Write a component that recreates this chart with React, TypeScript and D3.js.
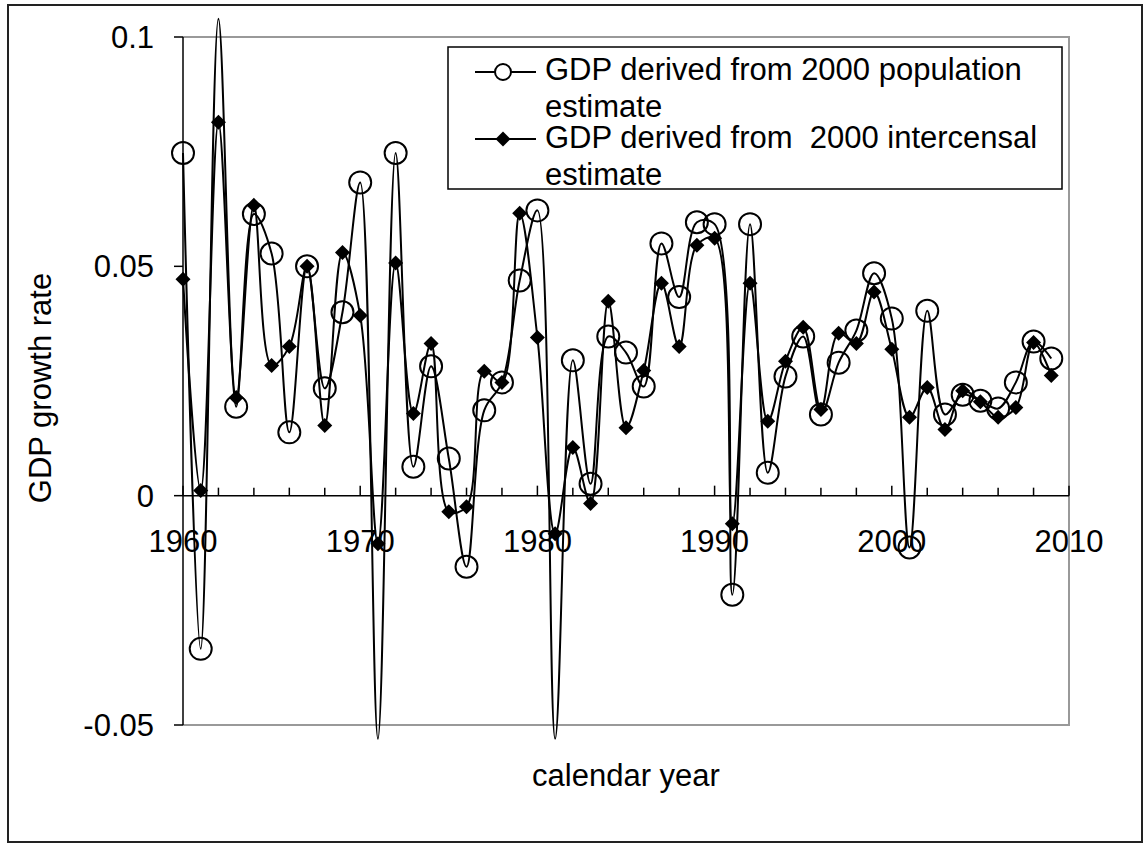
import React from "react";
import * as d3 from "d3";

// calendar years on the x axis
const years = [
  1960, 1961, 1962, 1963, 1964, 1965, 1966, 1967, 1968, 1969,
  1970, 1971, 1972, 1973, 1974, 1975, 1976, 1977, 1978, 1979,
  1980, 1981, 1982, 1983, 1984, 1985, 1986, 1987, 1988, 1989,
  1990, 1991, 1992, 1993, 1994, 1995, 1996, 1997, 1998, 1999,
  2000, 2001, 2002, 2003, 2004, 2005, 2006, 2007, 2008, 2009,
];

// GDP derived from 2000 population estimate (open circles)
const popEstimate = [
  0.0747, -0.0334, 0.104, 0.0194, 0.0614, 0.0528, 0.0138, 0.05, 0.0234, 0.04,
  0.0683, -0.053, 0.0747, 0.0063, 0.0282, 0.0081, -0.0155, 0.0186, 0.0247, 0.0469,
  0.0622, -0.053, 0.0295, 0.0026, 0.0347, 0.0312, 0.0238, 0.055, 0.0433, 0.0596,
  0.0592, -0.0216, 0.0592, 0.005, 0.026, 0.0347, 0.0177, 0.029, 0.036, 0.0485,
  0.0386, -0.0113, 0.0403, 0.0177, 0.022, 0.0207, 0.019, 0.0247, 0.0336, 0.0299,
];

// GDP derived from 2000 intercensal estimate (filled diamonds)
const intercensal = [
  0.0472, 0.0011, 0.0814, 0.0214, 0.0633, 0.0284, 0.0325, 0.05, 0.0153, 0.053,
  0.0393, -0.0105, 0.0507, 0.0179, 0.0332, -0.0035, -0.0024, 0.0271, 0.0247, 0.0616,
  0.0345, -0.0083, 0.0105, -0.0017, 0.0424, 0.0148, 0.0273, 0.0463, 0.0325, 0.0546,
  0.0561, -0.0061, 0.0463, 0.0162, 0.0293, 0.0367, 0.0188, 0.0354, 0.0332, 0.0444,
  0.0319, 0.0171, 0.0236, 0.0144, 0.0229, 0.0205, 0.0171, 0.0192, 0.0334, 0.0262,
];

const yTicks = [-0.05, 0, 0.05, 0.1];
const yTickLabels = ["-0.05", "0", "0.05", "0.1"];
const xLabelYears = [1960, 1970, 1980, 1990, 2000, 2010];
const legendLabels = [
  ["GDP derived from 2000 population", "estimate"],
  ["GDP derived from  2000 intercensal", "estimate"],
];

const FONT = "'Liberation Sans', Arial, sans-serif";

const App = () => {
  const left = 183, right = 1069, top = 37, bottom = 725;
  const x = d3.scaleLinear().domain([1960, 2010]).range([left, right]);
  const y = d3.scaleLinear().domain([-0.05, 0.1]).range([bottom, top]);
  const y0 = y(0);

  const line = d3
    .line<number>()
    .x((d, i) => x(years[i]))
    .y((d) => y(d))
    .curve(d3.curveCatmullRom.alpha(0.5));

  const inRange = (v: number) => v >= -0.05 && v <= 0.1;
  const diamond = (cx: number, cy: number, r: number) =>
    `M${cx},${cy - r}L${cx + r},${cy}L${cx},${cy + r}L${cx - r},${cy}Z`;

  const minorTicks = d3.range(1960, 2011, 2);

  return (
    <svg
      width={1144}
      height={844}
      style={{ position: "absolute", left: 0, top: 0, background: "#fff" }}
      fontFamily={FONT}
    >
      <rect x={8} y={5} width={1134} height={837} fill="#fff" stroke="#222" strokeWidth={2} />

      {/* plot area frame */}
      <path
        d={`M${left},${top}H${right}V${bottom}H${left}`}
        fill="none"
        stroke="#999"
        strokeWidth={2}
      />
      <line x1={left} x2={left} y1={top} y2={bottom} stroke="#000" strokeWidth={1.5} />

      {/* y axis ticks */}
      {yTicks.map((t, i) => (
        <g key={t}>
          <line x1={left - 9} x2={left} y1={y(t)} y2={y(t)} stroke="#000" strokeWidth={1.5} />
          <text x={154} y={y(t)} dy="0.36em" textAnchor="end" fontSize={31}>
            {yTickLabels[i]}
          </text>
        </g>
      ))}

      {/* x axis at zero */}
      <line x1={left} x2={right} y1={y0} y2={y0} stroke="#000" strokeWidth={1.5} />
      {minorTicks.map((t) => (
        <line
          key={t}
          x1={x(t)}
          x2={x(t)}
          y1={y0}
          y2={y0 - (t % 10 === 0 ? 10 : 8)}
          stroke="#000"
          strokeWidth={1.5}
        />
      ))}
      {xLabelYears.map((t) => (
        <text key={t} x={x(t)} y={552} textAnchor="middle" fontSize={31}>
          {t}
        </text>
      ))}

      {/* series lines */}
      <path d={line(popEstimate) || ""} fill="none" stroke="#000" strokeWidth={2} />
      <path d={line(intercensal) || ""} fill="none" stroke="#000" strokeWidth={2} />

      {/* markers */}
      {popEstimate.map((v, i) =>
        inRange(v) ? (
          <circle key={"c" + i} cx={x(years[i])} cy={y(v)} r={11} fill="none" stroke="#000" strokeWidth={2} />
        ) : null
      )}
      {intercensal.map((v, i) =>
        inRange(v) ? <path key={"d" + i} d={diamond(x(years[i]), y(v), 7.5)} fill="#000" /> : null
      )}

      {/* legend */}
      <rect x={448} y={47} width={614} height={142} fill="#fff" stroke="#000" strokeWidth={1.5} />
      <line x1={475} x2={536} y1={72} y2={72} stroke="#000" strokeWidth={2} />
      <circle cx={503} cy={72} r={8} fill="#fff" stroke="#000" strokeWidth={2} />
      <text x={545} y={80} fontSize={31}>{legendLabels[0][0]}</text>
      <text x={545} y={117} fontSize={31}>{legendLabels[0][1]}</text>
      <line x1={475} x2={536} y1={139} y2={139} stroke="#000" strokeWidth={2} />
      <path d={diamond(503, 139, 7.5)} fill="#000" />
      <text x={545} y={148} fontSize={31} style={{ whiteSpace: "pre" }}>{legendLabels[1][0]}</text>
      <text x={545} y={185} fontSize={31}>{legendLabels[1][1]}</text>

      {/* axis titles */}
      <text x={626} y={786} textAnchor="middle" fontSize={31}>calendar year</text>
      <text
        transform={`translate(51,388) rotate(-90)`}
        textAnchor="middle"
        fontSize={31}
      >
        GDP growth rate
      </text>
    </svg>
  );
};

export default App;
